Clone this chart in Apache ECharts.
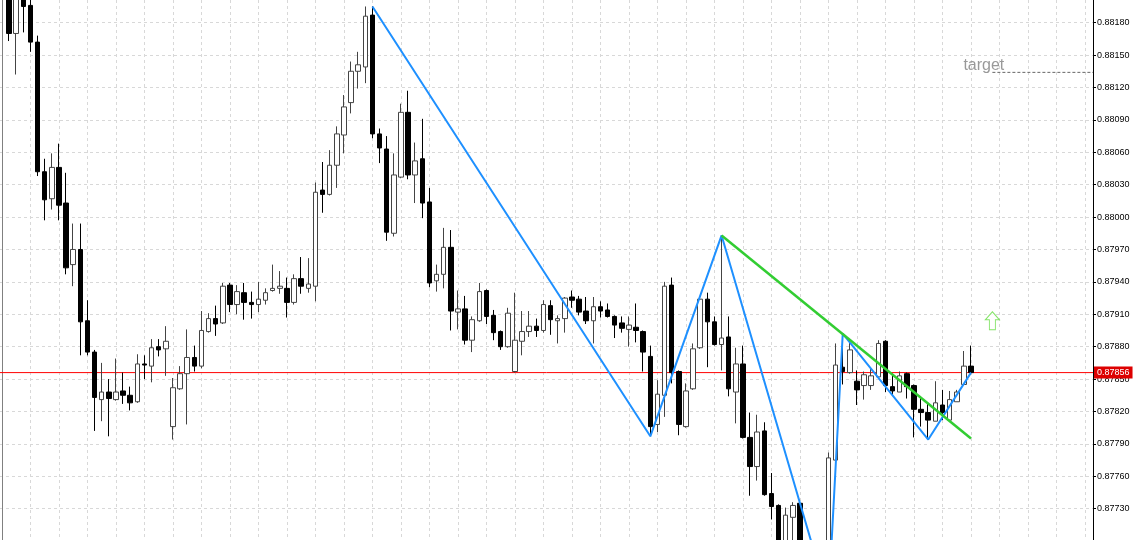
<!DOCTYPE html>
<html><head><meta charset="utf-8">
<script src="https://cdn.jsdelivr.net/npm/echarts@6/dist/echarts.min.js"></script>
<style>html,body{margin:0;padding:0;background:#fff}#c{width:1140px;height:540px}</style>
</head><body><div id="c"></div>
<script>
// candles: [open, close, low, high], one bar per index
const ohlc = [
[0.88206,0.88170,0.88163,0.88212],[0.88170,0.88204,0.88132,0.88208],[0.88203,0.88195,0.88171,0.88207],[0.88196,0.88162,0.88153,0.88205],
[0.88162,0.88042,0.88038,0.88168],[0.88042,0.88016,0.87997,0.88054],[0.88017,0.88046,0.88007,0.88059],[0.88046,0.88011,0.87997,0.88068],
[0.88013,0.87953,0.87947,0.88041],[0.87956,0.87970,0.87936,0.87994],[0.87970,0.87903,0.87872,0.87994],[0.87904,0.87875,0.87872,0.87923],
[0.87875,0.87833,0.87802,0.87877],[0.87831,0.87838,0.87811,0.87865],[0.87838,0.87832,0.87797,0.87850],[0.87831,0.87838,0.87830,0.87869],
[0.87839,0.87835,0.87827,0.87856],[0.87835,0.87828,0.87821,0.87843],[0.87829,0.87864,0.87828,0.87873],[0.87864,0.87863,0.87850,0.87872],
[0.87862,0.87879,0.87847,0.87887],[0.87880,0.87877,0.87871,0.87887],[0.87878,0.87885,0.87853,0.87899],[0.87806,0.87842,0.87794,0.87851],
[0.87841,0.87855,0.87840,0.87862],[0.87855,0.87870,0.87808,0.87896],[0.87870,0.87862,0.87857,0.87881],[0.87862,0.87895,0.87860,0.87913],
[0.87894,0.87906,0.87893,0.87911],[0.87906,0.87901,0.87890,0.87918],[0.87902,0.87936,0.87901,0.87939],[0.87937,0.87919,0.87912,0.87939],
[0.87919,0.87931,0.87910,0.87937],[0.87930,0.87921,0.87905,0.87939],[0.87921,0.87919,0.87906,0.87931],[0.87919,0.87924,0.87912,0.87940],
[0.87923,0.87930,0.87919,0.87934],[0.87932,0.87934,0.87931,0.87956],[0.87934,0.87936,0.87929,0.87950],[0.87934,0.87921,0.87907,0.87944],
[0.87921,0.87943,0.87919,0.87947],[0.87943,0.87936,0.87929,0.87963],[0.87934,0.87938,0.87930,0.87962],[0.87936,0.88023,0.87922,0.88032],
[0.88025,0.88021,0.88004,0.88051],[0.88021,0.88048,0.88020,0.88062],[0.88048,0.88077,0.88027,0.88084],[0.88076,0.88102,0.88059,0.88113],
[0.88106,0.88135,0.88096,0.88144],[0.88135,0.88141,0.88119,0.88153],[0.88139,0.88186,0.88124,0.88195],[0.88187,0.88077,0.88073,0.88195],
[0.88077,0.88064,0.88050,0.88082],[0.88063,0.87986,0.87978,0.88075],[0.87985,0.88039,0.87982,0.88059],[0.88037,0.88097,0.88036,0.88105],
[0.88097,0.88039,0.88035,0.88117],[0.88039,0.88052,0.88013,0.88069],[0.88054,0.88013,0.87999,0.88091],[0.88014,0.87939,0.87935,0.88027],
[0.87941,0.87947,0.87931,0.87956],[0.87947,0.87972,0.87934,0.87990],[0.87972,0.87913,0.87895,0.87988],[0.87912,0.87915,0.87896,0.87932],
[0.87915,0.87886,0.87882,0.87927],[0.87886,0.87905,0.87875,0.87908],[0.87904,0.87931,0.87903,0.87939],[0.87932,0.87908,0.87901,0.87933],
[0.87909,0.87893,0.87886,0.87914],[0.87894,0.87880,0.87877,0.87895],[0.87880,0.87911,0.87879,0.87916],[0.87857,0.87886,0.87856,0.87930],
[0.87885,0.87894,0.87872,0.87913],[0.87894,0.87899,0.87889,0.87913],[0.87899,0.87895,0.87889,0.87906],[0.87895,0.87919,0.87893,0.87923],
[0.87918,0.87905,0.87891,0.87923],[0.87904,0.87906,0.87883,0.87909],[0.87906,0.87925,0.87893,0.87926],[0.87926,0.87923,0.87916,0.87932],
[0.87924,0.87912,0.87909,0.87927],[0.87913,0.87904,0.87901,0.87926],[0.87904,0.87917,0.87883,0.87926],[0.87917,0.87913,0.87907,0.87922],
[0.87914,0.87908,0.87907,0.87920],[0.87908,0.87900,0.87888,0.87909],[0.87902,0.87897,0.87893,0.87908],[0.87896,0.87900,0.87880,0.87908],
[0.87898,0.87895,0.87884,0.87920],[0.87894,0.87875,0.87857,0.87895],[0.87871,0.87806,0.87797,0.87881],[0.87808,0.87836,0.87801,0.87849],
[0.87835,0.87936,0.87815,0.87940],[0.87937,0.87856,0.87846,0.87944],[0.87857,0.87808,0.87798,0.87858],[0.87806,0.87839,0.87805,0.87846],
[0.87841,0.87878,0.87840,0.87883],[0.87879,0.87924,0.87878,0.87927],[0.87924,0.87903,0.87861,0.87930],[0.87903,0.87882,0.87881,0.87908],
[0.87882,0.87888,0.87858,0.87983],[0.87889,0.87841,0.87834,0.87908],[0.87838,0.87864,0.87809,0.87879],[0.87864,0.87796,0.87795,0.87881],
[0.87796,0.87769,0.87742,0.87819],[0.87769,0.87801,0.87756,0.87817],[0.87802,0.87743,0.87742,0.87810],[0.87744,0.87732,0.87720,0.87763],
[0.87733,0.87695,0.87688,0.87734],[0.87692,0.87724,0.87685,0.87731],[0.87722,0.87733,0.87695,0.87736],[0.87735,0.87680,0.87672,0.87736],
[0.87680,0.87662,0.87655,0.87690],[0.87662,0.87655,0.87650,0.87675],[0.87655,0.87658,0.87648,0.87668],[0.87656,0.87777,0.87645,0.87782],
[0.87775,0.87863,0.87773,0.87883],[0.87861,0.87857,0.87845,0.87892],[0.87856,0.87877,0.87855,0.87886],[0.87848,0.87840,0.87826,0.87858],
[0.87844,0.87854,0.87831,0.87857],[0.87844,0.87853,0.87840,0.87860],[0.87852,0.87883,0.87851,0.87886],[0.87885,0.87844,0.87838,0.87886],
[0.87843,0.87839,0.87835,0.87855],[0.87838,0.87853,0.87838,0.87857],[0.87855,0.87843,0.87832,0.87856],[0.87844,0.87822,0.87796,0.87845],
[0.87822,0.87819,0.87806,0.87834],[0.87819,0.87812,0.87794,0.87828],[0.87811,0.87828,0.87811,0.87848],[0.87826,0.87819,0.87812,0.87840],
[0.87812,0.87831,0.87811,0.87839],[0.87829,0.87838,0.87829,0.87840],[0.87845,0.87862,0.87845,0.87876],[0.87862,0.87856,0.87854,0.87881]
];
// price scale tick labels
const yTicks = [0.87730,0.87760,0.87790,0.87820,0.87850,0.87880,0.87910,0.87940,0.87970,0.88000,0.88030,0.88060,0.88090,0.88120,0.88150,0.88180];
// zigzag pivots [barIndex, price]
const zigzag = [[51,0.88195],[90,0.87797],[100,0.87983],[115,0.87645],[117,0.87892],[129,0.87794],[135,0.87856]];
// green trend line [barIndex, price]
const trendLine = [[100,0.87983],[135,0.87795]];
const currentPrice = 0.87856;
const targetLevel = 0.88134;
const targetRange = [138, 152.12];
const arrowPoint = [138, 0.87904];
const xMin = -1.263, xMax = 152.12;
const yMin = 0.87701, yMax = 0.88201;
const xGrid = [];
for (let i = 3; i <= 152; i += 4) xGrid.push(i);

const chart = echarts.init(document.getElementById('c'), null, {renderer: 'canvas'});
chart.setOption({
  animation: false,
  backgroundColor: '#fff',
  grid: {left: 0, right: 47, top: 0, bottom: 0, containLabel: false},
  xAxis: {
    type: 'value', min: xMin, max: xMax,
    axisLine: {show: false, onZero: false}, axisLabel: {show: false},
    axisTick: {show: false, customValues: xGrid},
    splitLine: {show: true, lineStyle: {color: '#d8d8d8', type: [3, 3], width: 1}}
  },
  yAxis: [{
    type: 'value', position: 'right', min: yMin, max: yMax, scale: true,
    axisLine: {show: true, onZero: false, lineStyle: {color: '#000', width: 1}},
    axisTick: {show: true, length: 3, customValues: yTicks, lineStyle: {color: '#000'}},
    axisLabel: {customValues: yTicks, formatter: v => v.toFixed(5), fontSize: 9, color: '#000',
      fontFamily: 'Liberation Sans', margin: 4},
    splitLine: {show: true, lineStyle: {color: '#d8d8d8', type: [3, 3], width: 1}}
  }, {
    type: 'value', position: 'left', offset: -2, min: yMin, max: yMax,
    axisLine: {show: true, onZero: false, lineStyle: {color: '#808080', width: 1}},
    axisTick: {show: false}, axisLabel: {show: false}, splitLine: {show: false}
  }],
  series: [
    {
      type: 'line', data: [[xMin, currentPrice], [xMax, currentPrice]], symbol: 'none', z: 1,
      lineStyle: {color: '#ff0000', width: 1},
      endLabel: {show: true, distance: 1, formatter: currentPrice.toFixed(5),
        backgroundColor: '#dd0000', color: '#fff', fontSize: 9, fontFamily: 'Liberation Sans', padding: [2, 3, 1, 3]}
    },
    {
      type: 'candlestick', barWidth: 5, clip: true, z: 2,
      data: ohlc.map((b, i) => [i, b[0], b[1], b[2], b[3]]),
      encode: {x: 0, y: [1, 2, 3, 4]},
      itemStyle: {color: '#fff', color0: '#000', borderColor: '#444', borderColor0: '#000', borderWidth: 1}
    },
    {
      type: 'line', data: zigzag, symbol: 'none', z: 5,
      lineStyle: {color: '#1e90ff', width: 2}
    },
    {
      type: 'line', data: trendLine, symbol: 'none', z: 6,
      lineStyle: {color: '#32cd32', width: 2.5}
    },
    {
      type: 'line', data: targetRange.map(x => [x, targetLevel]), symbol: 'none', z: 4,
      lineStyle: {color: '#666', width: 1, type: [3, 2]}
    },
    {
      type: 'scatter', data: [[targetRange[0], targetLevel]], symbolSize: 0, z: 7,
      label: {show: true, formatter: 'target', position: [-29, -15], color: '#808080',
        fontSize: 16, fontFamily: 'Liberation Sans'}
    },
    {
      type: 'scatter', data: [arrowPoint], z: 7,
      symbol: 'path://M7,0 L14,8 L10,8 L10,18 L4,18 L4,8 L0,8 Z', symbolSize: [14, 18],
      itemStyle: {color: '#fff', borderColor: '#66dd44', borderWidth: 1}
    }
  ]
});
</script></body></html>
